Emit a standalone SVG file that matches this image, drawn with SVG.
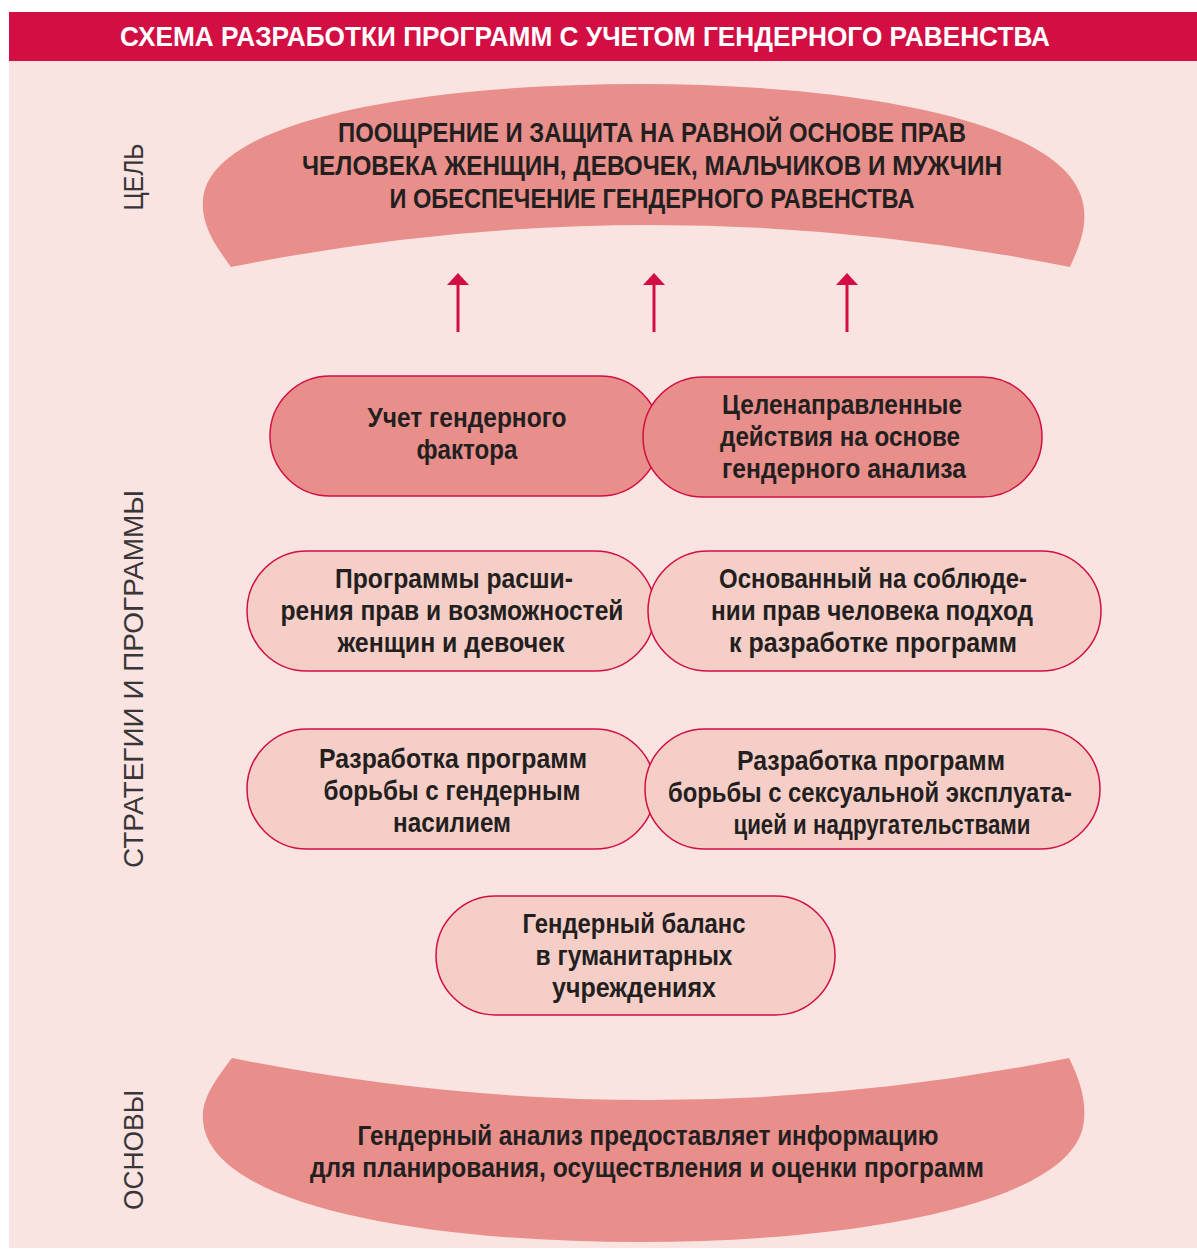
<svg xmlns="http://www.w3.org/2000/svg" width="1197" height="1249" viewBox="0 0 1197 1249">
<style>
.t{font-family:"Liberation Sans",Arial,sans-serif;font-weight:bold;font-size:28px;fill:#231F20;text-anchor:middle}
.side{font-family:"Liberation Sans",Arial,sans-serif;font-weight:normal;font-size:27px;fill:#3a3536;text-anchor:middle}
.dark{fill:#E88E8B;stroke:#D30E43;stroke-width:1.5}
.light{fill:#F5CEC7;stroke:#D30E43;stroke-width:1.5}
.arrow{stroke:#D30E43;stroke-width:3;fill:none}
</style>
<defs>
<marker id="ah" viewBox="0 0 12 22" refX="1" refY="11" markerWidth="12" markerHeight="22" markerUnits="userSpaceOnUse" orient="auto">
<path d="M0,0 L12,11 L0,22 Z" fill="#D30E43"/>
</marker>
</defs>
<rect x="9" y="12" width="1188" height="1236" fill="#F9E4E2"/>
<g id="header">
<rect x="9" y="12" width="1188" height="49" fill="#D30E43"/>
<text x="585" y="46" class="t" style="fill:#fff" textLength="930" lengthAdjust="spacingAndGlyphs">СХЕМА РАЗРАБОТКИ ПРОГРАММ С УЧЕТОМ ГЕНДЕРНОГО РАВЕНСТВА</text>
</g>
<g id="label-goal"><text class="side" transform="translate(143,177) rotate(-90)" textLength="67" lengthAdjust="spacingAndGlyphs">ЦЕЛЬ</text></g>
<g id="label-strategies"><text class="side" transform="translate(143,679) rotate(-90)" textLength="378" lengthAdjust="spacingAndGlyphs">СТРАТЕГИИ И ПРОГРАММЫ</text></g>
<g id="label-basis"><text class="side" transform="translate(143,1150) rotate(-90)" textLength="120" lengthAdjust="spacingAndGlyphs">ОСНОВЫ</text></g>
<g id="goal">
<path d="M231,267 Q650,183 1070,267 C1080,245 1086,228 1084,210 C1078,120 850,84 640,84 C420,84 208,120 203,200 C201,225 215,245 231,267 Z" fill="#E88E8B"/>
<text x="652" y="142" class="t" textLength="628" lengthAdjust="spacingAndGlyphs">ПООЩРЕНИЕ И ЗАЩИТА НА РАВНОЙ ОСНОВЕ ПРАВ</text>
<text x="652" y="175" class="t" textLength="700" lengthAdjust="spacingAndGlyphs">ЧЕЛОВЕКА ЖЕНЩИН, ДЕВОЧЕК, МАЛЬЧИКОВ И МУЖЧИН</text>
<text x="652" y="208" class="t" textLength="525" lengthAdjust="spacingAndGlyphs">И ОБЕСПЕЧЕНИЕ ГЕНДЕРНОГО РАВЕНСТВА</text>
</g>
<g id="connectors">
<line class="arrow" x1="458" y1="332" x2="458" y2="284" marker-end="url(#ah)"/>
<line class="arrow" x1="654" y1="332" x2="654" y2="284" marker-end="url(#ah)"/>
<line class="arrow" x1="847" y1="332" x2="847" y2="284" marker-end="url(#ah)"/>
</g>
<g id="node-gender-factor">
<rect class="dark" x="270" y="376" width="390" height="120" rx="60"/>
<text x="467" y="427" class="t" textLength="199" lengthAdjust="spacingAndGlyphs">Учет гендерного</text>
<text x="467" y="459" class="t" textLength="101" lengthAdjust="spacingAndGlyphs">фактора</text>
</g>
<g id="node-targeted-actions">
<rect class="dark" x="643" y="377" width="399" height="120" rx="60"/>
<text x="842" y="414" class="t" textLength="240" lengthAdjust="spacingAndGlyphs">Целенаправленные</text>
<text x="840" y="446" class="t" textLength="240" lengthAdjust="spacingAndGlyphs">действия на основе</text>
<text x="844" y="478" class="t" textLength="244" lengthAdjust="spacingAndGlyphs">гендерного анализа</text>
</g>
<g id="node-empowerment">
<rect class="light" x="247" y="551" width="408" height="120" rx="60"/>
<text x="454" y="588" class="t" textLength="238" lengthAdjust="spacingAndGlyphs">Программы расши-</text>
<text x="452" y="620" class="t" textLength="343" lengthAdjust="spacingAndGlyphs">рения прав и возможностей</text>
<text x="451" y="652" class="t" textLength="227" lengthAdjust="spacingAndGlyphs">женщин и девочек</text>
</g>
<g id="node-human-rights">
<rect class="light" x="648" y="551" width="453" height="120" rx="60"/>
<text x="873" y="588" class="t" textLength="308" lengthAdjust="spacingAndGlyphs">Основанный на соблюде-</text>
<text x="872" y="620" class="t" textLength="322" lengthAdjust="spacingAndGlyphs">нии прав человека подход</text>
<text x="873" y="652" class="t" textLength="288" lengthAdjust="spacingAndGlyphs">к разработке программ</text>
</g>
<g id="node-gbv">
<rect class="light" x="247" y="729" width="408" height="120" rx="60"/>
<text x="453" y="768" class="t" textLength="268" lengthAdjust="spacingAndGlyphs">Разработка программ</text>
<text x="452" y="800" class="t" textLength="257" lengthAdjust="spacingAndGlyphs">борьбы с гендерным</text>
<text x="452" y="832" class="t" textLength="118" lengthAdjust="spacingAndGlyphs">насилием</text>
</g>
<g id="node-sea">
<rect class="light" x="645" y="729" width="455" height="120" rx="60"/>
<text x="871" y="770" class="t" textLength="268" lengthAdjust="spacingAndGlyphs">Разработка программ</text>
<text x="870" y="802" class="t" textLength="404" lengthAdjust="spacingAndGlyphs">борьбы с сексуальной эксплуата-</text>
<text x="882" y="834" class="t" textLength="297" lengthAdjust="spacingAndGlyphs">цией и надругательствами</text>
</g>
<g id="node-balance">
<rect class="light" x="436" y="896" width="399" height="119" rx="59.5"/>
<text x="634" y="933" class="t" textLength="223" lengthAdjust="spacingAndGlyphs">Гендерный баланс</text>
<text x="634" y="965" class="t" textLength="197" lengthAdjust="spacingAndGlyphs">в гуманитарных</text>
<text x="634" y="997" class="t" textLength="164" lengthAdjust="spacingAndGlyphs">учреждениях</text>
</g>
<g id="basis">
<path d="M232,1058 Q650,1142 1069,1058 C1080,1080 1086,1100 1084,1120 C1078,1205 850,1242 640,1242 C420,1242 208,1205 203,1120 C201,1100 215,1080 232,1058 Z" fill="#E88E8B"/>
<text x="648" y="1145" class="t" textLength="581" lengthAdjust="spacingAndGlyphs">Гендерный анализ предоставляет информацию</text>
<text x="647" y="1177" class="t" textLength="674" lengthAdjust="spacingAndGlyphs">для планирования, осуществления и оценки программ</text>
</g>
</svg>
